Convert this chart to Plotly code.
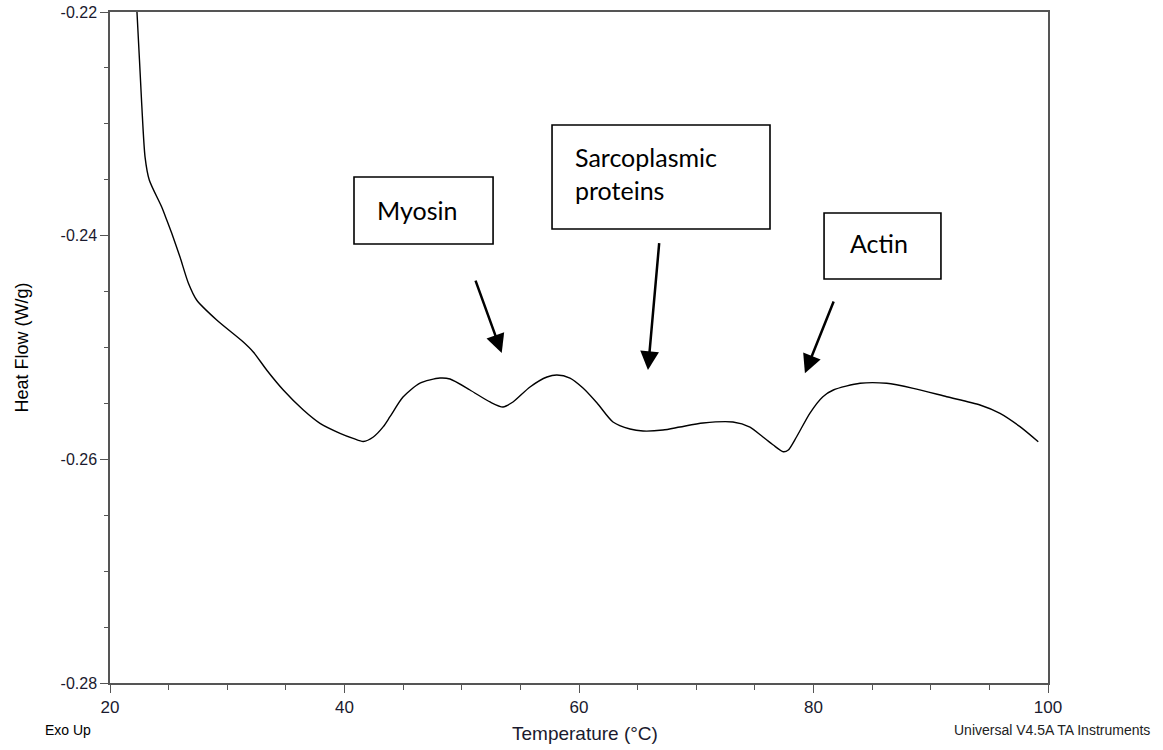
import plotly.graph_objects as go

# ---- data ----
temperature_c = [22.25, 22.30, 22.70, 22.99, 23.35, 24.41, 24.84, 25.26, 25.97, 26.68, 27.39,
                 29.10, 31.37, 32.22, 33.36, 34.78, 36.49, 37.91, 39.62, 40.80, 41.60, 42.46,
                 43.31, 43.88, 44.99, 46.44, 48.14, 49.00, 50.70, 52.41, 53.52, 54.37, 55.82,
                 57.27, 58.12, 59.23, 60.34, 61.54, 62.90, 64.35, 65.46, 67.16, 68.61,
                 70.58, 73.13, 74.58, 75.69, 76.57, 77.42, 77.85, 78.56, 79.70, 80.80, 81.69,
                 83.97, 86.24, 88.51, 91.36, 94.20, 95.91, 97.61, 99.17]
heat_flow_wg = [-0.2195, -0.2200, -0.22814, -0.23297, -0.23502, -0.23744, -0.23860, -0.23977,
                -0.24191, -0.24423, -0.24575, -0.24754, -0.24951, -0.25040, -0.25201, -0.25380,
                -0.25559, -0.25678, -0.25767, -0.25815, -0.25840, -0.25800, -0.25708, -0.25619,
                -0.25443, -0.25318, -0.25273, -0.25282, -0.25380, -0.25487, -0.25532, -0.25487,
                -0.25353, -0.25264, -0.25246, -0.25273, -0.25362, -0.25496, -0.25666, -0.25729,
                -0.25747, -0.25738, -0.25711, -0.25675, -0.25666, -0.25711, -0.25800, -0.25872,
                -0.25932, -0.25917, -0.25798, -0.25586, -0.25440, -0.25380, -0.25320, -0.25320,
                -0.25365, -0.25440, -0.25514, -0.25589, -0.25708, -0.25843]

x_ticks = [20, 40, 60, 80, 100]
y_ticks = [-0.28, -0.26, -0.24, -0.22]
y_tick_labels = ["-0.28", "-0.26", "-0.24", "-0.22"]

labels = ["Myosin", "Sarcoplasmic<br>proteins", "Actin"]

# ---- figure ----
fig = go.Figure()
fig.add_trace(go.Scatter(
    x=temperature_c, y=heat_flow_wg, mode="lines",
    line=dict(color="black", width=1.4, shape="spline", smoothing=0.7),
    showlegend=False, hoverinfo="skip"))

axis_color = "#555555"
fig.update_xaxes(
    range=[20, 100], tickvals=x_ticks, ticktext=[str(v) for v in x_ticks],
    showgrid=False, zeroline=False, showline=True, linecolor=axis_color, linewidth=1.5,
    mirror=True, ticks="outside", ticklen=8, tickwidth=1.3, tickcolor=axis_color,
    tickfont=dict(family="Liberation Sans, Arial", size=17, color="#1a1a2e"),
    minor=dict(dtick=5, ticks="outside", ticklen=5, tickwidth=1.3, tickcolor=axis_color),
    automargin=False,
)
fig.update_yaxes(
    range=[-0.28, -0.22], tickvals=y_ticks, ticktext=y_tick_labels,
    showgrid=False, zeroline=False, showline=True, linecolor=axis_color, linewidth=1.5,
    mirror=True, ticks="outside", ticklen=8, tickwidth=1.3, tickcolor=axis_color,
    tickfont=dict(family="Liberation Sans, Arial", size=16, color="#1a1a2e"),
    minor=dict(dtick=0.005, ticks="outside", ticklen=4, tickwidth=1.3, tickcolor=axis_color),
    automargin=False,
)

label_font = dict(family="Lato, Open Sans, sans-serif", size=25, color="black")
box_line = dict(color="black", width=1.6)

# text boxes
boxes = [
    (40.81, 52.67, -0.24075, -0.23475),
    (57.70, 76.29, -0.23940, -0.23010),
    (80.90, 90.87, -0.24388, -0.23797),
]
for (x0, x1, y0, y1) in boxes:
    fig.add_shape(type="rect", xref="x", yref="y", x0=x0, x1=x1, y0=y0, y1=y1,
                  line=box_line, fillcolor="rgba(0,0,0,0)")

arrow_style = dict(xref="x", yref="y", axref="x", ayref="y", showarrow=True, arrowhead=2,
                   arrowsize=1.5, arrowwidth=2.5, arrowcolor="black", standoff=0, text="")

annotations = [
    dict(text=labels[0], x=42.6, y=-0.23770, xref="x", yref="y", xanchor="left",
         yanchor="middle", showarrow=False, font=label_font),
    dict(text=labels[1], x=59.5, y=-0.23440, xref="x", yref="y", xanchor="left",
         yanchor="middle", align="left", showarrow=False, font=label_font),
    dict(text=labels[2], x=82.9, y=-0.24070, xref="x", yref="y", xanchor="left",
         yanchor="middle", showarrow=False, font=label_font),
    # arrows
    dict(x=53.41, y=-0.25049, ax=51.13, ay=-0.24388, **arrow_style),
    dict(x=65.88, y=-0.25201, ax=66.85, ay=-0.24054, **arrow_style),
    dict(x=79.27, y=-0.25231, ax=81.77, ay=-0.24575, **arrow_style),
    # axis titles
    dict(text="Temperature (°C)", x=0.506, y=0, xref="paper", yref="paper",
         yshift=-50, xanchor="center", yanchor="middle", showarrow=False,
         font=dict(family="Liberation Sans, Arial", size=19, color="#1a1a2e")),
    dict(text="Heat Flow (W/g)", x=0, y=0.5, xref="paper", yref="paper",
         xshift=-89, textangle=-90, xanchor="center", yanchor="middle", showarrow=False,
         font=dict(family="Liberation Sans, Arial", size=18, color="black")),
    # footer texts
    dict(text="Exo Up", x=0, y=0, xref="paper", yref="paper", xshift=-67, yshift=-47,
         xanchor="left", yanchor="middle", showarrow=False,
         font=dict(family="Liberation Sans, Arial", size=14, color="black")),
    dict(text="Universal V4.5A TA Instruments", x=1, y=0, xref="paper", yref="paper",
         xshift=104, yshift=-47, xanchor="right", yanchor="middle", showarrow=False,
         font=dict(family="Liberation Sans, Arial", size=14, color="#222222")),
]
fig.update_layout(
    annotations=annotations,
    width=1163, height=750,
    margin=dict(l=110, r=115, t=12, b=67, autoexpand=False),
    paper_bgcolor="white", plot_bgcolor="white",
    showlegend=False,
)

fig.write_html("out.html")
